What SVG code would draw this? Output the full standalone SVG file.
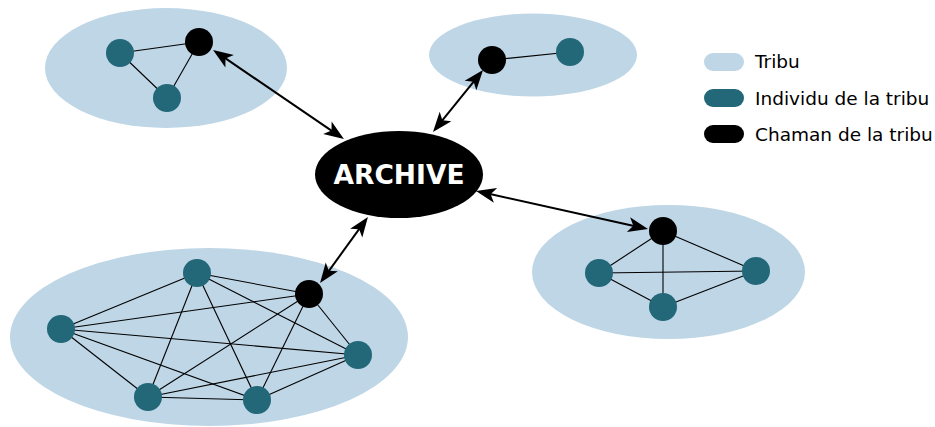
<svg xmlns="http://www.w3.org/2000/svg" width="935" height="427" viewBox="0 0 935 427">
<defs>
<style>
.tribe{fill:#bed6e6}
.ind{fill:#226878}
.sham{fill:#000}
.edge{stroke:#000;stroke-width:1.1;fill:none}
.link{stroke:#000;stroke-width:2;fill:none;marker-start:url(#ah);marker-end:url(#ah)}
.leg{font-family:"DejaVu Sans",sans-serif;font-size:18.5px;fill:#000}
</style>
<marker id="ah" markerUnits="userSpaceOnUse" viewBox="-10 -10 24 20" refX="0" refY="0" markerWidth="24" markerHeight="20" orient="auto-start-reverse">
<path d="M12,0 L-8,-7.5 L-3,0 L-8,7.5 Z" fill="#000"/>
</marker>
</defs>
<rect width="935" height="427" fill="#fff"/>
<g id="tribe-topleft">
<ellipse class="tribe" cx="166" cy="68" rx="121" ry="60"/>
<line class="edge" x1="120" y1="53" x2="199" y2="42"/>
<line class="edge" x1="120" y1="53" x2="167" y2="98"/>
<line class="edge" x1="199" y1="42" x2="167" y2="98"/>
<circle class="ind" cx="120" cy="53" r="14"/>
<circle class="ind" cx="167" cy="98" r="14"/>
<circle class="sham" cx="199" cy="42" r="14"/>
</g>
<g id="tribe-topright">
<ellipse class="tribe" cx="533" cy="55" rx="104" ry="41.5"/>
<line class="edge" x1="492" y1="60" x2="570" y2="52"/>
<circle class="ind" cx="570" cy="52" r="14"/>
<circle class="sham" cx="492" cy="60" r="14"/>
</g>
<g id="tribe-right">
<ellipse class="tribe" cx="668.5" cy="272" rx="136.5" ry="67"/>
<line class="edge" x1="663" y1="231" x2="599" y2="273"/>
<line class="edge" x1="663" y1="231" x2="756" y2="271"/>
<line class="edge" x1="663" y1="231" x2="663" y2="307"/>
<line class="edge" x1="599" y1="273" x2="756" y2="271"/>
<line class="edge" x1="599" y1="273" x2="663" y2="307"/>
<line class="edge" x1="663" y1="307" x2="756" y2="271"/>
<circle class="ind" cx="599" cy="273" r="14"/>
<circle class="ind" cx="756" cy="271" r="14"/>
<circle class="ind" cx="663" cy="307" r="14"/>
<circle class="sham" cx="663" cy="231" r="14"/>
</g>
<g id="tribe-bottomleft">
<ellipse class="tribe" cx="209" cy="337" rx="199" ry="89"/>
<line class="edge" x1="197" y1="273" x2="309" y2="294"/>
<line class="edge" x1="197" y1="273" x2="61" y2="329"/>
<line class="edge" x1="197" y1="273" x2="358" y2="355"/>
<line class="edge" x1="197" y1="273" x2="148" y2="397"/>
<line class="edge" x1="197" y1="273" x2="257" y2="400"/>
<line class="edge" x1="309" y1="294" x2="61" y2="329"/>
<line class="edge" x1="309" y1="294" x2="358" y2="355"/>
<line class="edge" x1="309" y1="294" x2="148" y2="397"/>
<line class="edge" x1="309" y1="294" x2="257" y2="400"/>
<line class="edge" x1="61" y1="329" x2="358" y2="355"/>
<line class="edge" x1="61" y1="329" x2="148" y2="397"/>
<line class="edge" x1="61" y1="329" x2="257" y2="400"/>
<line class="edge" x1="358" y1="355" x2="148" y2="397"/>
<line class="edge" x1="358" y1="355" x2="257" y2="400"/>
<line class="edge" x1="148" y1="397" x2="257" y2="400"/>
<circle class="ind" cx="197" cy="273" r="14"/>
<circle class="ind" cx="61" cy="329" r="14"/>
<circle class="ind" cx="358" cy="355" r="14"/>
<circle class="ind" cx="148" cy="397" r="14"/>
<circle class="ind" cx="257" cy="400" r="14"/>
<circle class="sham" cx="309" cy="294" r="14"/>
</g>
<g id="archive">
<ellipse cx="399" cy="174.5" rx="84" ry="43.5" fill="#000"/>
<text x="399" y="183.5" text-anchor="middle" font-family="DejaVu Sans, sans-serif" font-weight="bold" font-size="26.5" fill="#fff">ARCHIVE</text>
</g>
<g id="connectors">
<line class="link" x1="223" y1="56.7" x2="334" y2="132.3"/>
<line class="link" x1="475.5" y1="79.3" x2="440.5" y2="122.7"/>
<line class="link" x1="487.7" y1="193.6" x2="636.3" y2="226.4"/>
<line class="link" x1="327.1" y1="273.3" x2="360.9" y2="226.7"/>
</g>
<g id="legend">
<rect x="704" y="53" width="40" height="18" rx="9" class="tribe"/>
<text class="leg" x="755" y="68">Tribu</text>
<rect x="704" y="89" width="40" height="18" rx="9" class="ind"/>
<text class="leg" x="755" y="105">Individu de la tribu</text>
<rect x="704" y="125" width="40" height="18" rx="9" class="sham"/>
<text class="leg" x="755" y="141">Chaman de la tribu</text>
</g>
</svg>
